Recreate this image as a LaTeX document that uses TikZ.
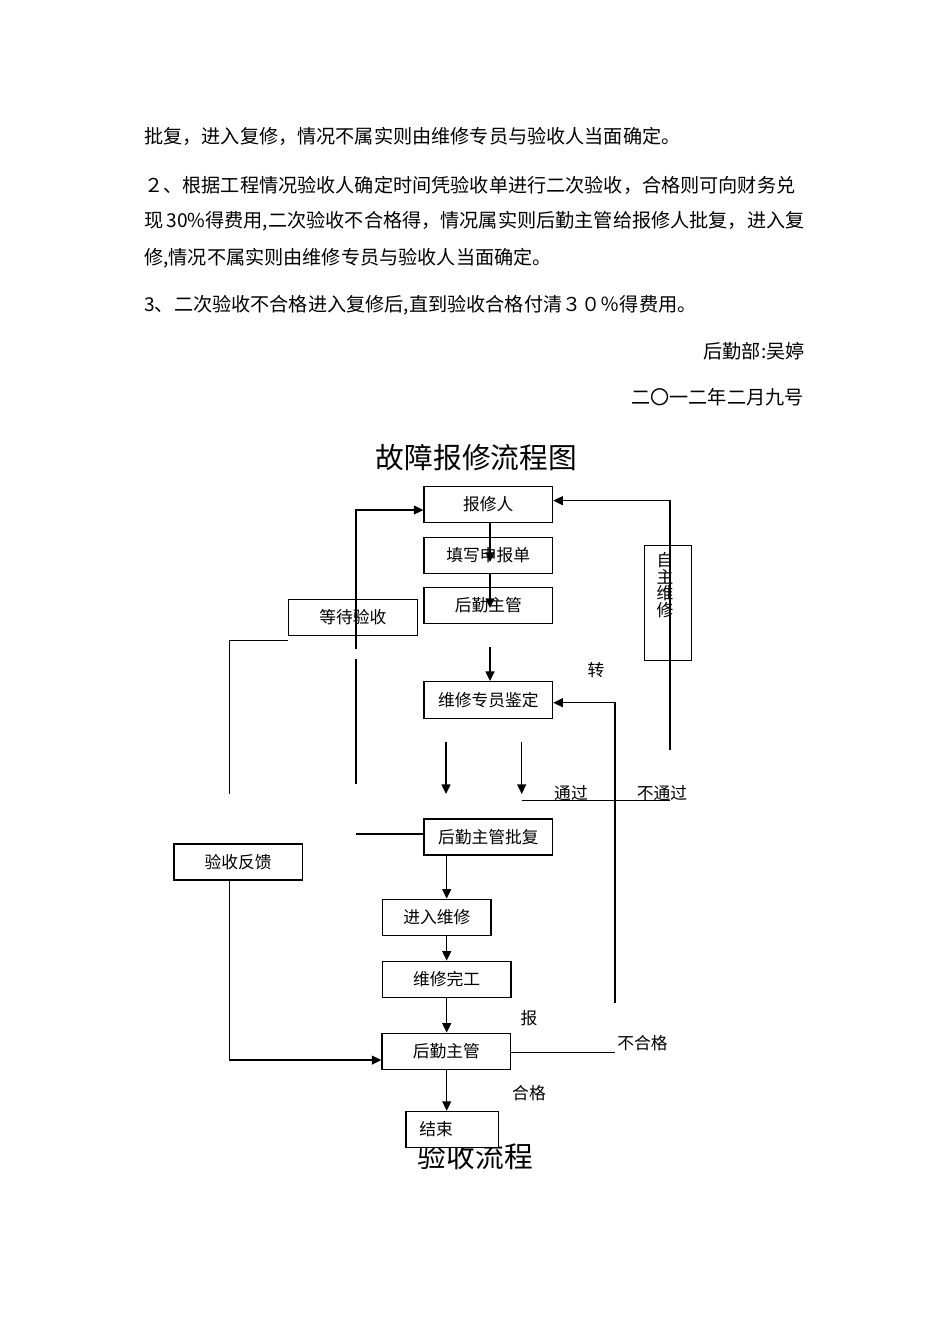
\documentclass[tikz,border=0pt]{standalone}
\usepackage{fontspec}
\setmainfont{Noto Sans CJK SC}
\usetikzlibrary{arrows.meta}

\begin{document}
\begin{tikzpicture}[x=0.62663pt, y=-0.62663pt,
  every node/.style={inner sep=0pt},
  para/.style={font=\fontsize{12pt}{14pt}\selectfont, anchor=west},
  head/.style={font=\fontsize{18pt}{20pt}\selectfont},
  lbl/.style={font=\fontsize{10.5pt}{10.5pt}\selectfont},
  box/.style={draw, line width=0.8pt, lbl, minimum width=80.6pt, minimum height=22.6pt},
  conn/.style={line width=0.8pt},
  arr/.style={conn, -{Triangle[length=6pt,width=5.6pt]}}]
  \useasboundingbox (0,0) rectangle (950,1344);

  % text above the chart
  \node[para] (p1) at (144,136.7) {批复，进入复修，情况不属实则由维修专员与验收人当面确定。};
  \node[para] (p2) at (144,185) {２、根据工程情况验收人确定时间凭验收单进行二次验收，合格则可向财务兑};
  \node[para] (p3) at (144,221.7) {现\,30\%得费用,二次验收不合格得，情况属实则后勤主管给报修人批复，进入复};
  \node[para] (p4) at (144,258.3) {修,情况不属实则由维修专员与验收人当面确定。};
  \node[para] (p5) at (144,305) {3、二次验收不合格进入复修后,直到验收合格付清３０％得费用。};
  \node[para, anchor=east] (sign) at (805,351.7) {后勤部:吴婷};
  \node[para, anchor=east] (date) at (804,396.7) {二〇一二年二月九号};

  \node[head] (title) at (476.5,458) {故障报修流程图};

  % boxes
  \node[box] (bxr) at (488.3,504.3) {报修人};
  \node[box] (tx) at (488.3,555.3) {填写申报单};
  \node[box] (hq1) at (488.3,605.3) {后勤主管};
  \node[box, minimum width=80.8pt] (wait) at (352.8,617.2) {等待验收};
  \node[box, minimum width=29.7pt, minimum height=71.8pt] (self) at (668,603) {};
  \node[lbl, align=center] (selflbl) at (665,585) {自\\主\\维\\修};
  \node[box, minimum height=23pt] (jd) at (488.3,700) {维修专员鉴定};
  \node[box] (pf) at (488.3,837) {后勤主管批复};
  \node[box] (fk) at (238.2,862) {验收反馈};
  \node[box, minimum width=67.9pt] (jr) at (436.8,917.3) {进入维修};
  \node[box] (wg) at (446.7,979.3) {维修完工};
  \node[box] (hq2) at (446.3,1051.3) {后勤主管};
  \node[head] (sub) at (475.3,1156.7) {验收流程};
  \node[box, fill=white, minimum width=57.8pt, text width=41.2pt, align=left, inner xsep=8.3pt] (end) at (452.2,1129.5) {结束};

  % labels
  \node[lbl] (zhuan) at (596,670) {转};
  \node[lbl] (tg) at (571,793) {通过};
  \node[lbl] (btg) at (662,793) {不通过};
  \node[lbl] (bao) at (529,1018) {报};
  \node[lbl] (hg) at (529,1093) {合格};
  \node[lbl] (bhg) at (642.5,1043) {不合格};

  % loose ends
  \coordinate (a1) at (490,562);
  \coordinate (a2) at (490,608);
  \coordinate (a3) at (490,647);
  \coordinate (b1) at (446,742);
  \coordinate (b2) at (446,794);
  \coordinate (b3) at (521.7,742);
  \coordinate (b4) at (521.7,794);
  \coordinate (gl) at (521.7,800.7);
  \coordinate (gr) at (670,800.7);
  \coordinate (sb) at (670,750);
  \coordinate (r1) at (615,1003);
  \coordinate (r2) at (615,1052.7);
  \coordinate (l1) at (229.3,794);
  \coordinate (m1) at (356,784);
  \coordinate (m2) at (356,659);
  \coordinate (m3) at (356,649);
  \coordinate (m4) at (356,834);

  % connectors
  \draw[arr] (bxr.south -| a1) -- (a1);
  \draw[arr] (tx.south -| a2) -- (a2);
  \draw[arr] (a3) -- (a3 |- jd.north);
  \draw[arr] (b1) -- (b2);
  \draw[arr] (b3) -- (b4);
  \draw[conn] (gl) -- (gr);
  \draw[arr] (sb) |- ([yshift=2.3pt]bxr.east);
  \draw[arr] (r1) |- ([yshift=-1.7pt]jd.east);
  \draw[conn] (l1) |- ([yshift=-2.7pt]wait.south west);
  \draw[conn] (m1) -- (m2);
  \draw[arr] (m3) |- ([yshift=-3.6pt]bxr.west);
  \draw[conn] (m4) -- (m4 -| pf.west);
  \draw[arr] (pf.south -| wg) -- (jr.north -| wg);
  \draw[arr] (jr.south -| wg) -- (wg.north);
  \draw[arr] (wg.south) -- (wg.south |- hq2.north);
  \draw[arr] (hq2.south -| wg) -- (end.north -| wg);
  \draw[arr] (fk.south -| l1) |- ([yshift=-5.5pt]hq2.west);
  \draw[conn] (hq2.east |- r2) -- (r2);
\end{tikzpicture}
\end{document}
